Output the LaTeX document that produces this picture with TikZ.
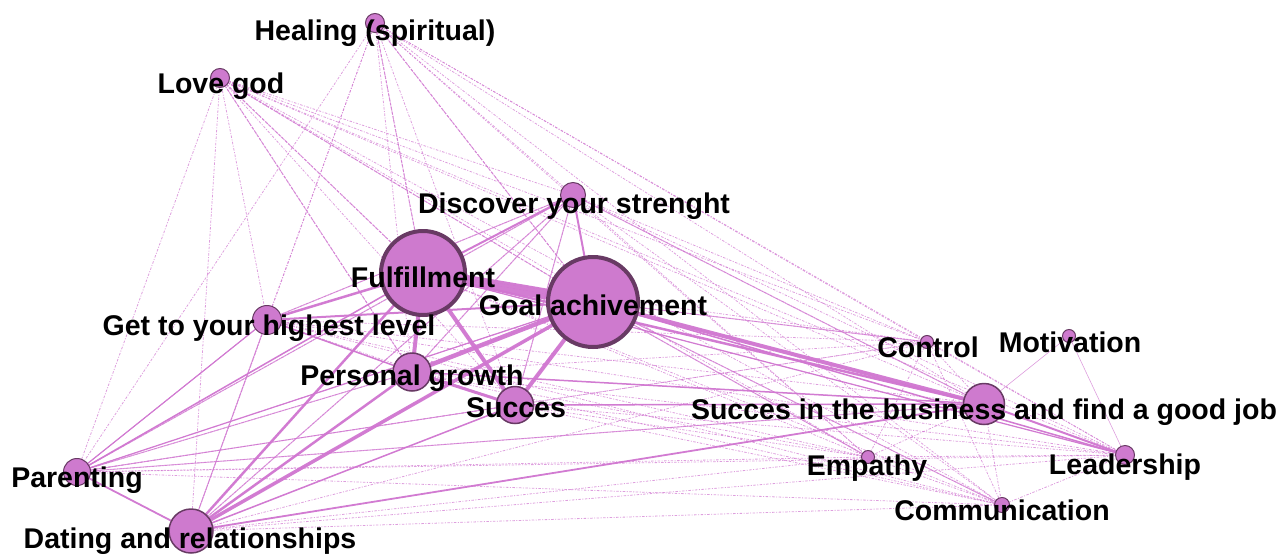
\documentclass[tikz,border=0pt]{standalone}
\usepackage{fontspec}
\setmainfont{Liberation Sans}
\definecolor{nfill}{RGB}{206,122,206}
\definecolor{ndark}{RGB}{104,58,100}
\definecolor{ecol}{RGB}{208,118,208}
\tikzset{
  nd/.style={circle, fill=nfill, draw=ndark, line width=1pt, inner sep=0pt},
  bignd/.style={nd, line width=4pt},
  lab/.style={anchor=base, inner sep=0pt, font=\fontsize{28.5}{30}\selectfont\bfseries, text=black},
  thinedge/.style={draw=ecol, draw opacity=.7, line width=.8pt, dash pattern=on 2.5pt off 1.5pt on 1pt off 1.5pt},
  midedge/.style={draw=ecol, draw opacity=.7, line width=1pt},
  dashmid/.style={draw=ecol, draw opacity=.8, line width=1pt, dash pattern=on 3pt off 1.5pt},
  heavy/.style={draw=ecol, draw opacity=.95, line width=#1},
}
\begin{document}
\begin{tikzpicture}[x=1pt,y=-1pt]
\useasboundingbox (0,0) rectangle (1279,554);
\coordinate (hea) at (375,23);
\coordinate (lov) at (220,78);
\coordinate (dis) at (573,195);
\coordinate (ful) at (423,273);
\coordinate (goa) at (593,302);
\coordinate (get) at (267,320);
\coordinate (per) at (412,372);
\coordinate (suc) at (515,405);
\coordinate (con) at (927,342);
\coordinate (mot) at (1069,336);
\coordinate (bus) at (984,404);
\coordinate (emp) at (868,457);
\coordinate (lea) at (1125,455);
\coordinate (com) at (1002,505);
\coordinate (par) at (77,472);
\coordinate (dat) at (191,531);
% thin dashed web
\def\nlist{hea,lov,dis,ful,goa,get,per,suc,con,bus,emp,lea,com,par,dat}
\foreach \a [count=\i] in \nlist {
  \foreach \b [count=\j] in \nlist {
    \ifnum\j>\i
      \ifnum\numexpr\i*100+\j\relax=102 \else
        \draw[thinedge] (\a) -- (\b);
      \fi
    \fi
  }
}
% medium edges
\foreach \a/\b in {lov/ful,lov/goa,lov/per,hea/ful,hea/goa}
  \draw[dashmid] (\a) -- (\b);
\foreach \a/\b in {dis/get,dis/per,dis/suc,dis/bus,dis/dat,dis/par,par/per,par/suc,par/bus,dat/get,goa/con,goa/emp,goa/com}
  \draw[midedge] (\a) -- (\b);
\draw[midedge, line width=.6pt] (mot) -- (bus);
\draw[midedge, line width=.6pt] (mot) -- (lea);
% heavy edges
\foreach \a/\b/\w in {ful/goa/11pt,ful/per/4pt,ful/suc/4pt,goa/suc/4pt,goa/per/4.5pt,goa/bus/4pt,ful/bus/2.5pt,goa/dat/3.5pt,ful/dat/2.5pt,per/dat/2.5pt,get/ful/2.5pt,get/goa/2pt,dis/ful/2pt,dis/goa/2pt,par/dat/1.8pt,bus/lea/2pt,suc/bus/1.5pt,per/bus/1.5pt,dat/bus/1.8pt,par/get/1.2pt,par/ful/1.5pt,par/goa/1.2pt,per/suc/3pt,get/per/1.5pt,dat/suc/1.5pt,goa/lea/1.5pt,ful/lea/1.2pt}
  \draw[heavy=\w] (\a) -- (\b);
% circles
\node[nd, minimum size=19pt] (c-hea) at (hea) {};
\node[nd, minimum size=19pt] (c-lov) at (lov) {};
\node[nd, minimum size=25pt] (c-dis) at (dis) {};
\node[bignd, minimum size=84pt] (c-ful) at (ful) {};
\node[bignd, minimum size=90pt] (c-goa) at (goa) {};
\node[nd, minimum size=29pt] (c-get) at (get) {};
\node[nd, line width=1.5pt, minimum size=38pt] (c-per) at (per) {};
\node[nd, line width=1.5pt, minimum size=37pt] (c-suc) at (suc) {};
\node[nd, minimum size=13pt] (c-con) at (con) {};
\node[nd, minimum size=13pt] (c-mot) at (mot) {};
\node[nd, line width=1.5pt, minimum size=41pt] (c-bus) at (bus) {};
\node[nd, minimum size=13pt] (c-emp) at (emp) {};
\node[nd, minimum size=19pt] (c-lea) at (lea) {};
\node[nd, minimum size=15pt] (c-com) at (com) {};
\node[nd, minimum size=27pt] (c-par) at (par) {};
\node[nd, line width=1.5pt, minimum size=44pt] (c-dat) at (dat) {};
% labels
\node[lab] (l-hea) at (375,40) {Healing (spiritual)};
\node[lab] (l-lov) at (221,93) {Love god};
\node[lab] (l-dis) at (574,213) {Discover your strenght};
\node[lab] (l-ful) at (423,287) {Fulfillment};
\node[lab] (l-goa) at (593,315) {Goal achivement};
\node[lab] (l-get) at (269,335) {Get to your highest level};
\node[lab] (l-per) at (412,385) {Personal growth};
\node[lab] (l-suc) at (516,417) {Succes};
\node[lab] (l-con) at (928,357) {Control};
\node[lab] (l-mot) at (1070,352) {Motivation};
\node[lab] (l-bus) at (984,419) {Succes in the business and find a good job};
\node[lab] (l-emp) at (867,475) {Empathy};
\node[lab] (l-lea) at (1125,474) {Leadership};
\node[lab] (l-com) at (1002,520) {Communication};
\node[lab] (l-par) at (77,487) {Parenting};
\node[lab] (l-dat) at (190,548) {Dating and relationships};
\end{tikzpicture}
\end{document}
